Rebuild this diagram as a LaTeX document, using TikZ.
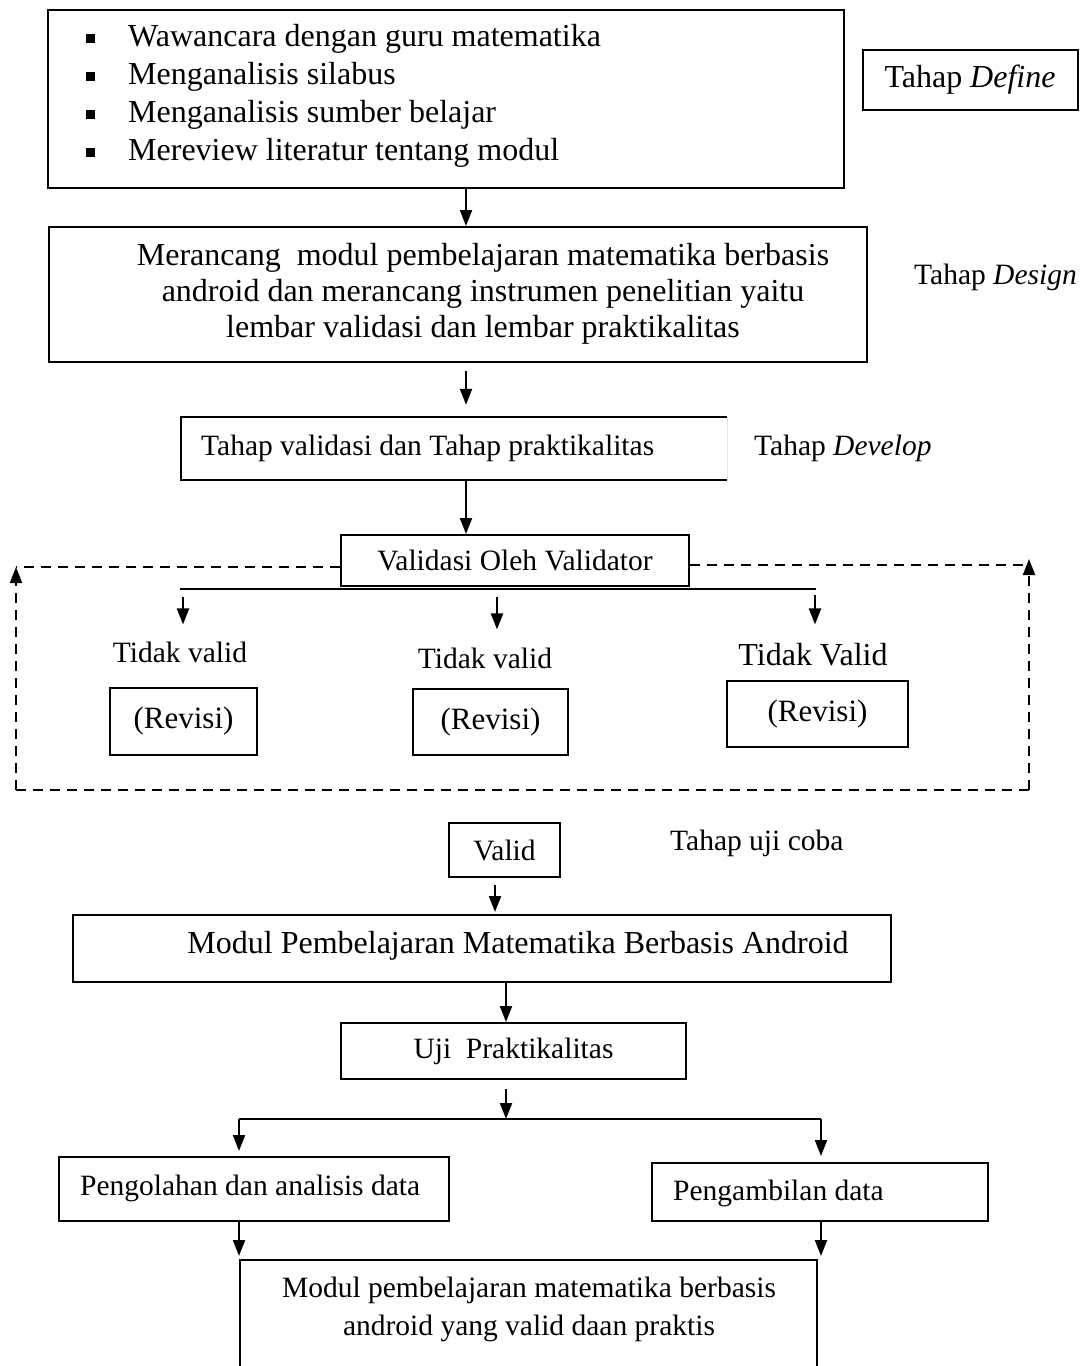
\documentclass[tikz,border=0pt]{standalone}
\usepackage{fontspec}
\setmainfont{Liberation Serif}
\usetikzlibrary{arrows.meta}
\newcommand{\bigfont}{\fontsize{32}{38}\selectfont}
\newcommand{\midfont}{\fontsize{29.5}{38}\selectfont}
\newcommand{\bul}{\makebox[42pt][l]{\rule[4pt]{9pt}{9pt}}}
\tikzset{box/.style={draw, line width=2pt, inner sep=0pt}, lbl/.style={inner sep=0pt}}
\tikzset{arr/.style={line width=2pt, -{Triangle[length=16pt,width=12pt]}}, splitline/.style={line width=2pt}, backloop/.style={line width=2pt, dash pattern=on 10pt off 7pt}}

\begin{document}
\begin{tikzpicture}[x=1pt,y=-1pt]
   \useasboundingbox (0,0) rectangle (1080,1366);
   \clip (0,0) rectangle (1080,1366);
   \coordinate (axis) at (466,0);
   % define
   \node[box, minimum width=796pt, minimum height=178pt] (define) at (446,99) {};
   \node[lbl, anchor=west, align=left, font=\bigfont] (definetext) at (86,96) {\bul Wawancara dengan guru matematika\\ \bul Menganalisis silabus\\ \bul Menganalisis sumber belajar\\ \bul Mereview literatur tentang modul};
   \node[box, minimum width=215pt, minimum height=60pt, font=\bigfont] (tdefine) at (970,80) {Tahap \textit{Define}};
   % design
   \node[box, minimum width=818pt, minimum height=135pt] (design) at (458,294.5) {};
   \node[lbl, align=center, font=\fontsize{32}{36}\selectfont] (designtext) at (483,294) {Merancang\ \ modul pembelajaran matematika berbasis\\ android dan merancang instrumen penelitian yaitu\\ lembar validasi dan lembar praktikalitas};
   \node[lbl, anchor=west, font=\midfont] (tdesign) at (914,277) {Tahap \textit{Design}};
   % develop
   \node[lbl, minimum width=546pt, minimum height=63pt] (develop) at (454,448.5) {};
   \draw[line width=2pt] (develop.north east) -- (develop.north west) -- (develop.south west) -- (develop.south east);
   \draw[gray!20, line width=0.6pt] (develop.north east) -- (develop.south east);
   \node[lbl, anchor=west, font=\midfont] (developtext) at (201,448) {Tahap validasi dan Tahap praktikalitas};
   \node[lbl, anchor=west, font=\midfont] (tdevelop) at (754,448) {Tahap \textit{Develop}};
   \node[box, minimum width=348pt, minimum height=51pt, font=\midfont] (validator) at (515,560.5) {Validasi Oleh Validator};
   \draw[arr] (define.south -| axis) -- (design.north -| axis);
   \draw[arr, shorten <=8pt, shorten >=12pt] (design.south -| axis) -- (develop.north -| axis);
   \draw[arr] (develop.south -| axis) -- (validator.north -| axis);
   % revisi loop
   \coordinate (tl) at (16,567);
   \coordinate (bl) at (16,790);
   \coordinate (br) at (1029,790);
   \coordinate (tr) at (1029,559);
   \coordinate (trline) at (1029,565);
   \draw[backloop] (validator.west |- tl) -- (tl);
   \draw[backloop, -{Triangle[length=16pt,width=12pt]}] (bl) -- (tl);
   \draw[backloop] (bl) -- (br);
   \draw[backloop, -{Triangle[length=16pt,width=12pt]}] (br) -- (tr);
   \draw[backloop] (validator.east |- trline) -- (trline);
   \coordinate (s1l) at (180,589);
   \coordinate (s1r) at (816,589);
   \draw[splitline] (s1l) -- (s1r);
   \node[lbl, font=\midfont] (tv1) at (180,652) {Tidak valid};
   \node[lbl, font=\midfont] (tv2) at (485,658) {Tidak valid};
   \node[lbl, font=\bigfont] (tv3) at (813,655) {Tidak Valid};
   \coordinate (c1) at (183,0);
   \coordinate (c2) at (497,0);
   \coordinate (c3) at (815,0);
   \draw[arr, shorten <=8pt, shorten >=17pt] (s1l -| c1) -- (c1 |- tv1.north);
   \draw[arr, shorten <=8pt, shorten >=18pt] (s1l -| c2) -- (c2 |- tv2.north);
   \draw[arr, shorten <=6pt, shorten >=19pt] (s1l -| c3) -- (c3 |- tv3.north);
   \node[box, minimum width=147pt, minimum height=67pt, font=\fontsize{31}{36}\selectfont] (rev1) at (183.5,721.5) {(Revisi)};
   \node[box, minimum width=155pt, minimum height=66pt, font=\fontsize{31}{36}\selectfont] (rev2) at (490.5,722) {(Revisi)};
   \node[box, minimum width=181pt, minimum height=66pt, font=\fontsize{31}{36}\selectfont] (rev3) at (817.5,714) {(Revisi)};
   % uji coba
   \coordinate (axis2) at (495,0);
   \coordinate (axis3) at (506,0);
   \node[box, minimum width=111pt, minimum height=54pt, font=\midfont] (valid) at (504.5,850) {Valid};
   \node[lbl, anchor=west, font=\midfont] (tujicoba) at (670,843) {Tahap uji coba};
   \node[box, minimum width=818pt, minimum height=67pt] (modul) at (482,948.5) {};
   \node[lbl, font=\bigfont] (modultext) at (518,946) {Modul Pembelajaran Matematika Berbasis Android};
   \node[box, minimum width=345pt, minimum height=56pt, font=\midfont] (uji) at (513.5,1051) {Uji\ \ Praktikalitas};
   \draw[arr, shorten <=7pt, shorten >=2pt] (valid.south -| axis2) -- (modul.north -| axis2);
   \draw[arr] (modul.south -| axis3) -- (uji.north -| axis3);
   \coordinate (s2l) at (239,1119);
   \coordinate (s2r) at (821,1119);
   \draw[arr, shorten <=9pt] (uji.south -| axis3) -- (s2l -| axis3);
   \draw[splitline] (s2l) -- (s2r);
   \node[box, minimum width=390pt, minimum height=64pt] (olah) at (254,1189) {};
   \node[lbl, anchor=west, font=\midfont] (olahtext) at (80,1188) {Pengolahan dan analisis data};
   \node[box, minimum width=336pt, minimum height=58pt] (ambil) at (820,1192) {};
   \node[lbl, anchor=west, font=\midfont] (ambiltext) at (673,1193) {Pengambilan data};
   \draw[arr, shorten >=5pt] (s2l) -- (olah.north -| s2l);
   \draw[arr, shorten >=6pt] (s2r) -- (ambil.north -| s2r);
   \node[box, minimum width=577pt, minimum height=150pt] (final) at (528.5,1335) {};
   \node[lbl, align=center, font=\midfont] (finaltext) at (529,1309) {Modul pembelajaran matematika berbasis\\ android yang valid daan praktis};
   \draw[arr, shorten >=3pt] (olah.south -| s2l) -- (final.north -| s2l);
   \draw[arr, shorten >=3pt] (ambil.south -| s2r) -- (final.north -| s2r);
\end{tikzpicture}
\end{document}
